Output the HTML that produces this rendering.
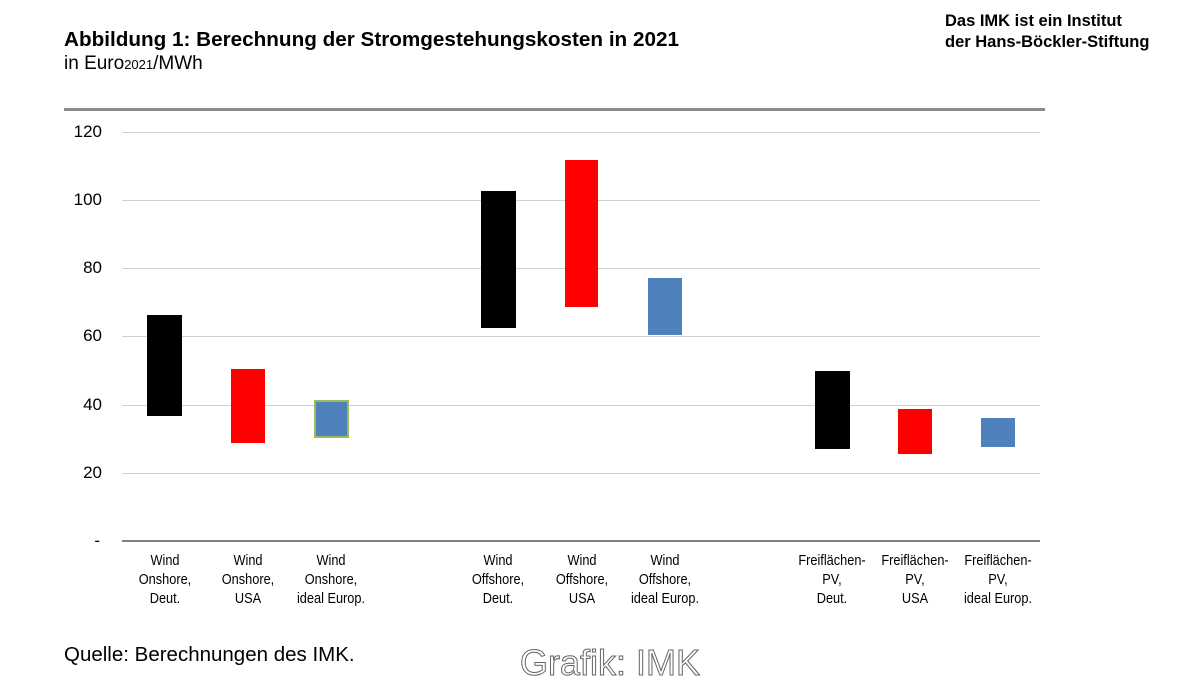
<!DOCTYPE html>
<html><head><meta charset="utf-8"><style>
body{margin:0;width:1200px;height:697px;background:#fff;position:relative;overflow:hidden;font-family:"Liberation Sans",sans-serif;color:#000}
.a{position:absolute}
.g{position:absolute;left:122px;width:918px;height:1px;background:#d0d0d0}
.t{position:absolute;left:60px;width:42px;text-align:right;font-size:17px;line-height:18px}
.b{position:absolute}
.l{position:absolute;width:130px;text-align:center;font-size:15px;line-height:19px;top:551px;transform:scaleX(0.85)}
</style></head><body>
<div class="a" style="left:64px;top:28px;font-weight:bold;font-size:20.7px;white-space:nowrap">Abbildung 1: Berechnung der Stromgestehungskosten in 2021</div>
<div class="a" style="left:64px;top:53px;font-size:19px;white-space:nowrap">in Euro<span style="font-size:13px">2021</span>/MWh</div>
<div class="a" style="left:945px;top:11px;font-weight:bold;font-size:16.5px;line-height:21px;white-space:nowrap">Das IMK ist ein Institut<br>der Hans-Böckler-Stiftung</div>
<div class="a" style="left:64px;top:108px;width:981px;height:3px;background:#8a8a8a"></div>
<div class="g" style="top:132px"></div><div class="g" style="top:200px"></div><div class="g" style="top:268px"></div><div class="g" style="top:336px"></div><div class="g" style="top:405px"></div><div class="g" style="top:473px"></div>
<div class="a" style="left:122px;top:540px;width:918px;height:2px;background:#808080"></div>
<div class="t" style="top:123px">120</div><div class="t" style="top:191px">100</div><div class="t" style="top:259px">80</div><div class="t" style="top:327px">60</div><div class="t" style="top:396px">40</div><div class="t" style="top:464px">20</div><div class="t" style="top:532px;width:40px">-</div>
<div class="b" style="left:147px;top:315px;width:35px;height:101px;background:#000"></div>
<div class="b" style="left:231px;top:369px;width:34px;height:74px;background:#f00"></div>
<div class="b" style="left:314px;top:400px;width:31px;height:34px;background:#4f81bd;border:2px solid #9bbb59"></div>
<div class="b" style="left:481px;top:191px;width:35px;height:137px;background:#000"></div>
<div class="b" style="left:565px;top:160px;width:33px;height:147px;background:#f00"></div>
<div class="b" style="left:648px;top:278px;width:34px;height:57px;background:#4f81bd"></div>
<div class="b" style="left:815px;top:371px;width:35px;height:78px;background:#000"></div>
<div class="b" style="left:898px;top:409px;width:34px;height:45px;background:#f00"></div>
<div class="b" style="left:981px;top:418px;width:34px;height:29px;background:#4f81bd"></div>
<div class="l" style="left:100px">Wind<br>Onshore,<br>Deut.</div>
<div class="l" style="left:183px">Wind<br>Onshore,<br>USA</div>
<div class="l" style="left:266px">Wind<br>Onshore,<br>ideal Europ.</div>
<div class="l" style="left:433px">Wind<br>Offshore,<br>Deut.</div>
<div class="l" style="left:517px">Wind<br>Offshore,<br>USA</div>
<div class="l" style="left:600px">Wind<br>Offshore,<br>ideal Europ.</div>
<div class="l" style="left:767px">Freiflächen-<br>PV,<br>Deut.</div>
<div class="l" style="left:850px">Freiflächen-<br>PV,<br>USA</div>
<div class="l" style="left:933px">Freiflächen-<br>PV,<br>ideal Europ.</div>
<div class="a" style="left:64px;top:643px;font-size:20.5px;white-space:nowrap">Quelle: Berechnungen des IMK.</div>
<div class="a" style="left:520px;top:642px;font-size:36px;color:#fff;-webkit-text-stroke:1px #666;white-space:nowrap">Grafik: IMK</div>
</body></html>
